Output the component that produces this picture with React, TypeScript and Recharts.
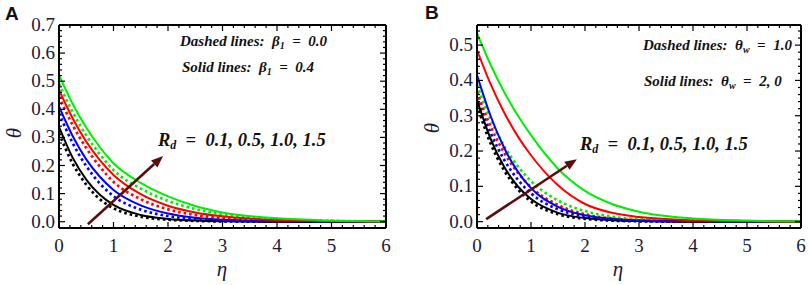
import React from "react";
import { LineChart, Line, XAxis, YAxis, ReferenceLine } from "recharts";

const etaGrid = [0, 0.25, 0.5, 0.75, 1, 1.5, 2, 2.5, 3, 4, 5, 6];

// panel A: solid beta1 = 0.4, dotted beta1 = 0.0
const aBlackSolid = [0.338, 0.228, 0.15, 0.096, 0.06, 0.024, 0.01, 0.004, 0.0015, 0, 0, 0];
const aBlueSolid = [0.41, 0.305, 0.222, 0.16, 0.113, 0.058, 0.029, 0.014, 0.007, 0.002, 0.0005, 0];
const aRedSolid = [0.469, 0.368, 0.285, 0.219, 0.166, 0.098, 0.057, 0.033, 0.019, 0.006, 0.002, 0.0005];
const aGreenSolid = [0.522, 0.42, 0.335, 0.265, 0.208, 0.138, 0.09, 0.056, 0.033, 0.012, 0.004, 0.001];
const aBlackDot = [0.315, 0.207, 0.132, 0.08, 0.048, 0.018, 0.007, 0.003, 0.001, 0, 0, 0];
const aBlueDot = [0.386, 0.28, 0.198, 0.136, 0.091, 0.043, 0.02, 0.009, 0.004, 0.001, 0, 0];
const aRedDot = [0.445, 0.344, 0.262, 0.196, 0.142, 0.08, 0.044, 0.024, 0.013, 0.004, 0.001, 0];
const aGreenDot = [0.49, 0.39, 0.307, 0.24, 0.184, 0.118, 0.074, 0.045, 0.027, 0.009, 0.003, 0.001];

// panel B: solid theta_w = 2.0, dotted theta_w = 1.0
const bBlackSolid = [0.345, 0.235, 0.156, 0.101, 0.064, 0.025, 0.01, 0.004, 0.0015, 0, 0, 0];
const bBlueSolid = [0.415, 0.3, 0.21, 0.143, 0.095, 0.042, 0.018, 0.008, 0.003, 0.001, 0, 0];
const bRedSolid = [0.486, 0.39, 0.31, 0.243, 0.188, 0.103, 0.05, 0.025, 0.013, 0.004, 0.001, 0];
const bGreenSolid = [0.534, 0.445, 0.368, 0.302, 0.245, 0.15, 0.087, 0.05, 0.028, 0.009, 0.003, 0.001];
const bBlackDot = [0.33, 0.222, 0.146, 0.093, 0.057, 0.021, 0.008, 0.003, 0.001, 0, 0, 0];
const bBlueDot = [0.352, 0.252, 0.176, 0.12, 0.08, 0.035, 0.015, 0.006, 0.0025, 0, 0, 0];
const bRedDot = [0.368, 0.27, 0.196, 0.14, 0.098, 0.047, 0.021, 0.009, 0.004, 0.001, 0, 0];
const bGreenDot = [0.387, 0.29, 0.215, 0.158, 0.115, 0.06, 0.03, 0.014, 0.007, 0.002, 0, 0];

// arrows (eta, theta) tail -> head
const arrowA = [{ eta: 0.53, theta: -0.009 }, { eta: 1.91, theta: 0.234 }];
const arrowB = [{ eta: 0.17, theta: 0.007 }, { eta: 1.85, theta: 0.177 }];

const xMajors = [0, 1, 2, 3, 4, 5, 6];
const yMajorsA = [0, 0.1, 0.2, 0.3, 0.4, 0.5, 0.6, 0.7];
const yMajorsB = [0, 0.1, 0.2, 0.3, 0.4, 0.5];

const INK = "#1b1b38";
const ARROW = "#5a0d0d";
const SERIF = "'Liberation Serif', 'Times New Roman', 'DejaVu Serif', serif";
const SANS = "'Liberation Sans', Arial, sans-serif";

function withMinor(majors: number[], parts: number, max: number) {
  const step = majors[1] - majors[0];
  const out: number[] = [];
  for (let m = majors[0]; m <= max + 1e-9; m += step / parts) out.push(+m.toFixed(4));
  return out;
}

function buildRows(series: Record<string, number[]>) {
  return etaGrid.map((eta, i) => {
    const r: any = { eta };
    for (const k in series) r[k] = series[k][i];
    return r;
  });
}

const dataA = buildRows({
  k0: aBlackDot, k1: aBlueDot, k2: aRedDot, k3: aGreenDot,
  k4: aBlackSolid, k5: aBlueSolid, k6: aRedSolid, k7: aGreenSolid,
});
const dataB = buildRows({
  k0: bBlackDot, k1: bBlueDot, k2: bRedDot, k3: bGreenDot,
  k4: bBlackSolid, k5: bBlueSolid, k6: bRedSolid, k7: bGreenSolid,
});

const seriesStyle = [
  { key: "k0", color: "#000000", dotted: true },
  { key: "k1", color: "#0000ff", dotted: true },
  { key: "k2", color: "#ff0000", dotted: true },
  { key: "k3", color: "#00ee00", dotted: true },
  { key: "k4", color: "#000000", dotted: false },
  { key: "k5", color: "#0000ff", dotted: false },
  { key: "k6", color: "#ff0000", dotted: false },
  { key: "k7", color: "#00ee00", dotted: false },
];

function FrameTick(props: any) {
  const { x, y, payload, side, majors } = props;
  const v = payload.value as number;
  const major = majors.some((m: number) => Math.abs(m - v) < 1e-6);
  const len = major ? 6 : 3;
  const dx = side === "left" ? len : side === "right" ? -len : 0;
  const dy = side === "bottom" ? -len : side === "top" ? len : 0;
  return (
    <g>
      <line x1={x} y1={y} x2={x + dx} y2={y + dy} stroke="#000" strokeWidth={1.2} />
      {major && side === "bottom" && (
        <text x={x} y={y + 24} textAnchor="middle" fill={INK} fontSize={19} fontFamily={SERIF}>
          {v}
        </text>
      )}
      {major && side === "left" && (
        <text x={x - 4} y={y + 6} textAnchor="end" fill={INK} fontSize={19} fontFamily={SERIF}>
          {v.toFixed(1)}
        </text>
      )}
    </g>
  );
}

function Arrow(props: any) {
  const { x1, y1, x2, y2 } = props;
  const ang = Math.atan2(y2 - y1, x2 - x1);
  const head = 12;
  const half = 4.8;
  const bx = x2 - head * Math.cos(ang);
  const by = y2 - head * Math.sin(ang);
  const px = -Math.sin(ang) * half;
  const py = Math.cos(ang) * half;
  return (
    <g>
      <line x1={x1} y1={y1} x2={bx} y2={by} stroke={ARROW} strokeWidth={2.6} />
      <polygon points={`${x2},${y2} ${bx + px},${by + py} ${bx - px},${by - py}`} fill={ARROW} />
    </g>
  );
}

function Panel({ data, width, margin, yDomain, yMajors, arrow }: any) {
  const xTicks = withMinor(xMajors, 5, 6);
  const yTicks = withMinor(yMajors, 5, yDomain[1]);
  const axisLine = { stroke: "#000", strokeWidth: 2 };
  const common = { tickSize: 0, tickMargin: 0, tickLine: false, interval: 0 as const, axisLine, allowDataOverflow: true };
  return (
    <LineChart width={width} height={285} data={data} margin={margin}>
      <XAxis xAxisId="b" dataKey="eta" type="number" domain={[0, 6]} ticks={xTicks} orientation="bottom" height={1}
        {...common} tick={(p: any) => <FrameTick {...p} side="bottom" majors={xMajors} />} />
      <XAxis xAxisId="t" dataKey="eta" type="number" domain={[0, 6]} ticks={xTicks} orientation="top" height={1}
        {...common} tick={(p: any) => <FrameTick {...p} side="top" majors={xMajors} />} />
      <YAxis yAxisId="l" type="number" domain={yDomain} ticks={yTicks} orientation="left" width={1}
        {...common} tick={(p: any) => <FrameTick {...p} side="left" majors={yMajors} />} />
      <YAxis yAxisId="r" type="number" domain={yDomain} ticks={yTicks} orientation="right" width={1}
        {...common} tick={(p: any) => <FrameTick {...p} side="right" majors={yMajors} />} />
      {seriesStyle.map((s) => (
        <Line key={s.key} xAxisId="b" yAxisId="l" type="monotone" dataKey={s.key} stroke={s.color}
          strokeWidth={s.dotted ? 2.7 : 2} strokeDasharray={s.dotted ? "2.6 3" : undefined}
          dot={false} activeDot={false} isAnimationActive={false} />
      ))}
      <ReferenceLine xAxisId="b" yAxisId="l" ifOverflow="visible"
        segment={[{ x: arrow[0].eta, y: arrow[0].theta }, { x: arrow[1].eta, y: arrow[1].theta }]}
        shape={(p: any) => <Arrow {...p} />} />
    </LineChart>
  );
}

const ann = { fontFamily: SERIF, fontWeight: 700, fontStyle: "italic" as const, fill: "#111" };
const sp = "\u00a0";

export default function App() {
  return (
    <div style={{ position: "absolute", left: 0, top: 0, width: 809, height: 285, background: "#fff", overflow: "hidden" }}>
      <div style={{ position: "absolute", left: 0, top: 0 }}>
        <Panel data={dataA} width={400} margin={{ top: 24, right: 13, bottom: 56, left: 58 }}
          yDomain={[-0.0224, 0.7]} yMajors={yMajorsA} arrow={arrowA} />
      </div>
      <div style={{ position: "absolute", left: 405, top: 0 }}>
        <Panel data={dataB} width={404} margin={{ top: 24, right: 7, bottom: 56, left: 71 }}
          yDomain={[-0.018, 0.557]} yMajors={yMajorsB} arrow={arrowB} />
      </div>
      <svg width={809} height={285} style={{ position: "absolute", left: 0, top: 0, pointerEvents: "none" }}>
        <text x={5} y={20} fontFamily={SANS} fontWeight={700} fontSize={19} fill="#111">A</text>
        <text x={425} y={19} fontFamily={SANS} fontWeight={700} fontSize={19} fill="#111">B</text>
        <text transform="translate(14,133) rotate(-90)" textAnchor="middle" dominantBaseline="central"
          fontFamily={SERIF} fontStyle="italic" fontSize={21} fill={INK}>θ</text>
        <text transform="translate(432,128) rotate(-90)" textAnchor="middle" dominantBaseline="central"
          fontFamily={SERIF} fontStyle="italic" fontSize={21} fill={INK}>θ</text>
        <text x={222} y={276} textAnchor="middle" fontFamily={SERIF} fontStyle="italic" fontSize={21} fill={INK}>η</text>
        <text x={618} y={276} textAnchor="middle" fontFamily={SERIF} fontStyle="italic" fontSize={21} fill={INK}>η</text>

        <text x={180} y={46} fontSize={15} {...ann}>
          Dashed lines:{sp}{sp}β<tspan dy={3} fontSize={10}>1</tspan><tspan dy={-3}>{sp}{sp}={sp}{sp}0.0</tspan>
        </text>
        <text x={182} y={72} fontSize={15} {...ann}>
          Solid lines:{sp}{sp}β<tspan dy={3} fontSize={10}>1</tspan><tspan dy={-3}>{sp}{sp}={sp}{sp}0.4</tspan>
        </text>
        <text x={158} y={146} fontSize={18.5} {...ann}>
          R<tspan dy={3} fontSize={12}>d</tspan><tspan dy={-3}>{sp}{sp}={sp}{sp}0.1, 0.5, 1.0, 1.5</tspan>
        </text>

        <text x={643} y={50} fontSize={15} {...ann}>
          Dashed lines:{sp}{sp}θ<tspan dy={3} fontSize={10}>w</tspan><tspan dy={-3}>{sp}{sp}={sp}{sp}1.0</tspan>
        </text>
        <text x={644} y={86} fontSize={15} {...ann}>
          Solid lines:{sp}{sp}θ<tspan dy={3} fontSize={10}>w</tspan><tspan dy={-3}>{sp}{sp}={sp}{sp}2, 0</tspan>
        </text>
        <text x={580} y={150} fontSize={18.5} {...ann}>
          R<tspan dy={3} fontSize={12}>d</tspan><tspan dy={-3}>{sp}{sp}={sp}{sp}0.1, 0.5, 1.0, 1.5</tspan>
        </text>
      </svg>
    </div>
  );
}
